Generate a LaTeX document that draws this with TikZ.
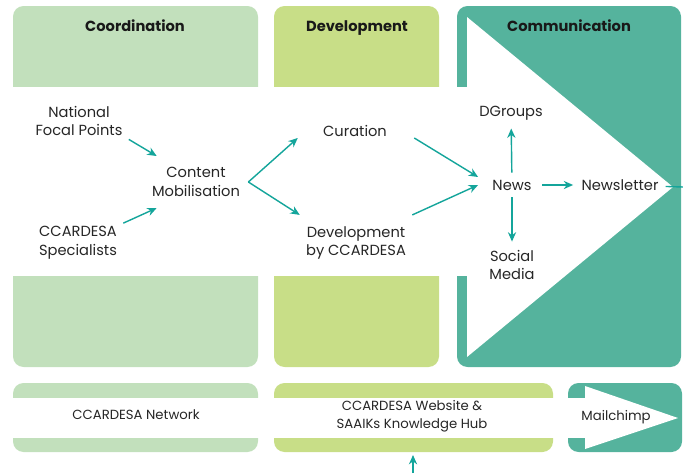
\documentclass[tikz,border=0pt]{standalone}
\usepackage{fontspec}
\setmainfont{Poppins}
\usetikzlibrary{arrows.meta}
\definecolor{coordgreen}{HTML}{C2E0BC}
\definecolor{devgreen}{HTML}{C8DE87}
\definecolor{commteal}{HTML}{55B39D}
\definecolor{arrowteal}{HTML}{14A59B}
\tikzset{
  panel/.style={rounded corners=9pt},
  lbl/.style={align=center,font=\fontsize{12.5}{16}\selectfont,text=black!85,inner sep=1pt},
  head/.style={anchor=base,font=\bfseries\fontsize{12.5}{14}\selectfont,text=black!90},
  small/.style={align=center,font=\fontsize{11.3}{15}\selectfont,text=black!85,inner sep=1pt},
  arr/.style={-{Stealth[length=8pt,width=7pt]},arrowteal,line width=1.2pt},
}
\begin{document}
\begin{tikzpicture}[x=0.03cm,y=-0.03cm]
  \useasboundingbox (0,0) rectangle (683,473);
  % panels
  \fill[coordgreen,panel] (13,6) rectangle (258,367);
  \fill[devgreen,panel] (274,6) rectangle (439,367);
  \fill[commteal,panel] (457,6) rectangle (681,367);
  \fill[white] (0,87) rectangle (467,276);
  \fill[white] (467,17) -- (673,187) -- (467,357) -- cycle;
  % bottom bars
  \fill[coordgreen,panel] (13,383) rectangle (258,452);
  \fill[devgreen,panel] (274,383) rectangle (553,452);
  \fill[commteal,panel] (568,383) rectangle (682,452);
  \fill[white] (0,398) rectangle (585,438);
  \fill[white] (585,386) -- (678,418) -- (585,449) -- cycle;

  \node[head] (coordhead) at (135,31) {Coordination};
  \node[head] (devhead) at (357,31) {Development};
  \node[head] (commhead) at (569,31) {Communication};

  \node[lbl] (nfp) at (79,121) {National\\Focal Points};
  \node[lbl] (cs) at (78,243) {CCARDESA\\Specialists};
  \node[lbl] (cm) at (196,182) {Content\\Mobilisation};
  \node[lbl] (cur) at (355,131) {Curation};
  \node[lbl] (dev) at (356,243) {Development\\by CCARDESA};
  \node[lbl] (dg) at (511,113) {DGroups};
  \node[lbl] (news) at (512,185) {News};
  \node[lbl] (nl) at (620,185) {Newsletter};
  \node[lbl] (sm) at (512,265) {Social\\Media};

  \node[small] (net) at (136,415) {CCARDESA Network};
  \node[small] (web) at (412,416) {CCARDESA Website \&\\SAAIKs Knowledge Hub};
  \node[small] (mail) at (616,417) {Mailchimp};

  \coordinate (out) at (683,187);
  \coordinate (feed) at (413,473);
  \coordinate (webbar) at (413,455);

  \draw[arr] ([shift={(5,2)}]nfp.south east) -- ([shift={(6,-10)}]cm.north west);
  \draw[arr] ([shift={(5,-2)}]cs.north east) -- ([shift={(6,10)}]cm.south west);
  \draw[arr] ([shift={(7,0)}]cm.east) -- ([shift={(-24,7)}]cur.west);
  \draw[arr] ([shift={(7,0)}]cm.east) -- ([shift={(-5,-10)}]dev.north west);
  \draw[arr] ([shift={(26,7)}]cur.east) -- ([shift={(-13,-8)}]news.west);
  \draw[arr] ([shift={(5,-10)}]dev.north east) -- ([shift={(-13,0)}]news.west);
  \draw[arr,shorten <=5pt,shorten >=6pt] (news) -- (dg);
  \draw[arr,shorten <=5pt,shorten >=6pt] (news) -- (sm);
  \draw[arr,shorten <=8pt,shorten >=6pt] (news) -- (nl);
  \draw[arrowteal,line width=1.2pt,shorten <=5pt] (nl) -- (out);
  \draw[arr] (feed) -- (webbar);
\end{tikzpicture}
\end{document}
